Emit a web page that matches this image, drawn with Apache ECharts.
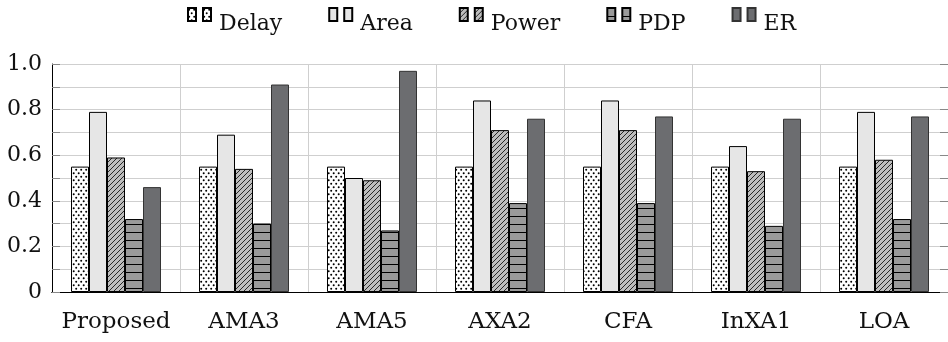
<!DOCTYPE html>
<html>
<head>
<meta charset="utf-8">
<script src="https://cdn.jsdelivr.net/npm/echarts@6/dist/echarts.min.js"></script>
<style>html,body{margin:0;padding:0;background:#fff;}#chart{width:948px;height:342px;}</style>
</head>
<body>
<div id="chart"></div>
<script>
const categories = ['Proposed', 'AMA3', 'AMA5', 'AXA2', 'CFA', 'InXA1', 'LOA'];
const delay = [0.55, 0.55, 0.55, 0.55, 0.55, 0.55, 0.55];
const area  = [0.79, 0.69, 0.50, 0.84, 0.84, 0.64, 0.79];
const power = [0.59, 0.54, 0.49, 0.71, 0.71, 0.53, 0.58];
const pdp   = [0.32, 0.30, 0.27, 0.39, 0.39, 0.29, 0.32];
const er    = [0.46, 0.91, 0.97, 0.76, 0.77, 0.76, 0.77];
const seriesNames = ['Delay', 'Area', 'Power', 'PDP', 'ER'];
const yTicks = [0, 0.2, 0.4, 0.6, 0.8, 1.0];

function tile(w, h, draw) {
  const c = document.createElement('canvas');
  c.width = w; c.height = h;
  const ctx = c.getContext('2d');
  draw(ctx, w, h);
  return c;
}
const dotsPat = tile(5, 7, (ctx, w, h) => {
  ctx.fillStyle = '#fff'; ctx.fillRect(0, 0, w, h);
  ctx.fillStyle = '#000';
  ctx.beginPath(); ctx.arc(1.2, 1.7, 1.0, 0, Math.PI * 2); ctx.fill();
  ctx.beginPath(); ctx.arc(3.7, 5.2, 1.0, 0, Math.PI * 2); ctx.fill();
});
const diagPat = tile(5, 5, (ctx, w, h) => {
  ctx.fillStyle = '#bdbdbd'; ctx.fillRect(0, 0, w, h);
  ctx.strokeStyle = '#000'; ctx.lineWidth = 0.8;
  ctx.beginPath();
  ctx.moveTo(-1, 6); ctx.lineTo(6, -1);
  ctx.moveTo(-6, 6); ctx.lineTo(1, -1);
  ctx.moveTo(4, 6); ctx.lineTo(11, -1);
  ctx.stroke();
});
const hlinePat = tile(8, 8, (ctx, w, h) => {
  ctx.fillStyle = '#9a9a9a'; ctx.fillRect(0, 0, w, h);
  ctx.fillStyle = '#000'; ctx.fillRect(0, 0, w, 1);
});

const fills = [
  { image: dotsPat, repeat: 'repeat' },
  '#e6e6e6',
  { image: diagPat, repeat: 'repeat' },
  { image: hlinePat, repeat: 'repeat' },
  '#6c6d70'
];
const borders = ['#000', '#000', '#000', '#000', '#333'];
const values = [delay, area, power, pdp, er];

const FONT = 'DejaVu Serif';
const chart = echarts.init(document.getElementById('chart'), null, { renderer: 'canvas' });
const option = {
  animation: false,
  backgroundColor: '#fff',
  textStyle: { fontFamily: FONT },
  legend: {
    top: 7,
    left: 187,
    padding: 0,
    itemGap: 46,
    itemWidth: 26,
    itemHeight: 32,
    icon: 'path://M0,0h8v13h-8z M15,0h8v13h-8z M26,32l0,0',
    textStyle: { fontFamily: FONT, fontSize: 22, color: '#111' },
    data: seriesNames
  },
  grid: { left: 52, right: 0, top: 64, bottom: 50, containLabel: false },
  xAxis: [{
    type: 'category',
    data: categories,
    position: 'bottom',
    axisLine: { lineStyle: { color: '#000', width: 1 } },
    axisTick: { alignWithLabel: true, interval: 0, inside: false, length: 10, lineStyle: { color: '#999' } },
    axisLabel: { interval: 0, fontFamily: FONT, fontSize: 23, color: '#111', margin: 19 },
    splitLine: { show: true, interval: 0, lineStyle: { color: '#cfcfcf', width: 1 } }
  }, {
    type: 'category',
    data: categories,
    position: 'top',
    axisLine: { lineStyle: { color: '#000', width: 1 } },
    axisTick: { alignWithLabel: true, interval: 0, inside: false, length: 10, lineStyle: { color: '#999' } },
    axisLabel: { show: false, interval: 0 },
    splitLine: { show: false }
  }],
  yAxis: [{
    type: 'value',
    min: 0, max: 1, interval: 0.1,
    position: 'left',
    axisLine: { show: true, lineStyle: { color: '#000', width: 1 } },
    axisTick: { show: true, inside: true, length: 8, lineStyle: { color: '#888' } },
    axisLabel: {
      fontFamily: FONT, fontSize: 22, color: '#111', margin: 10,
      formatter: v => {
        const r = Math.round(v * 10) / 10;
        const hit = yTicks.find(t => Math.abs(t - r) < 1e-9);
        if (hit === undefined) return '';
        return hit === 0 ? '0' : hit.toFixed(1);
      }
    },
    splitLine: { show: true, lineStyle: { color: '#cfcfcf', width: 1 } }
  }, {
    type: 'value',
    min: 0, max: 1, interval: 0.1,
    position: 'right',
    axisLine: { show: true, lineStyle: { color: '#000', width: 1 } },
    axisTick: { show: true, inside: true, length: 8, lineStyle: { color: '#888' } },
    axisLabel: { show: false },
    splitLine: { show: false }
  }],
  series: seriesNames.map((name, i) => ({
    name,
    type: 'bar',
    xAxisIndex: 0,
    yAxisIndex: 0,
    data: values[i],
    barWidth: 18,
    barGap: '0%',
    itemStyle: { color: fills[i], borderColor: borders[i], borderWidth: 1 },
    emphasis: { disabled: true }
  }))
};
chart.setOption(option);
</script>
</body>
</html>
